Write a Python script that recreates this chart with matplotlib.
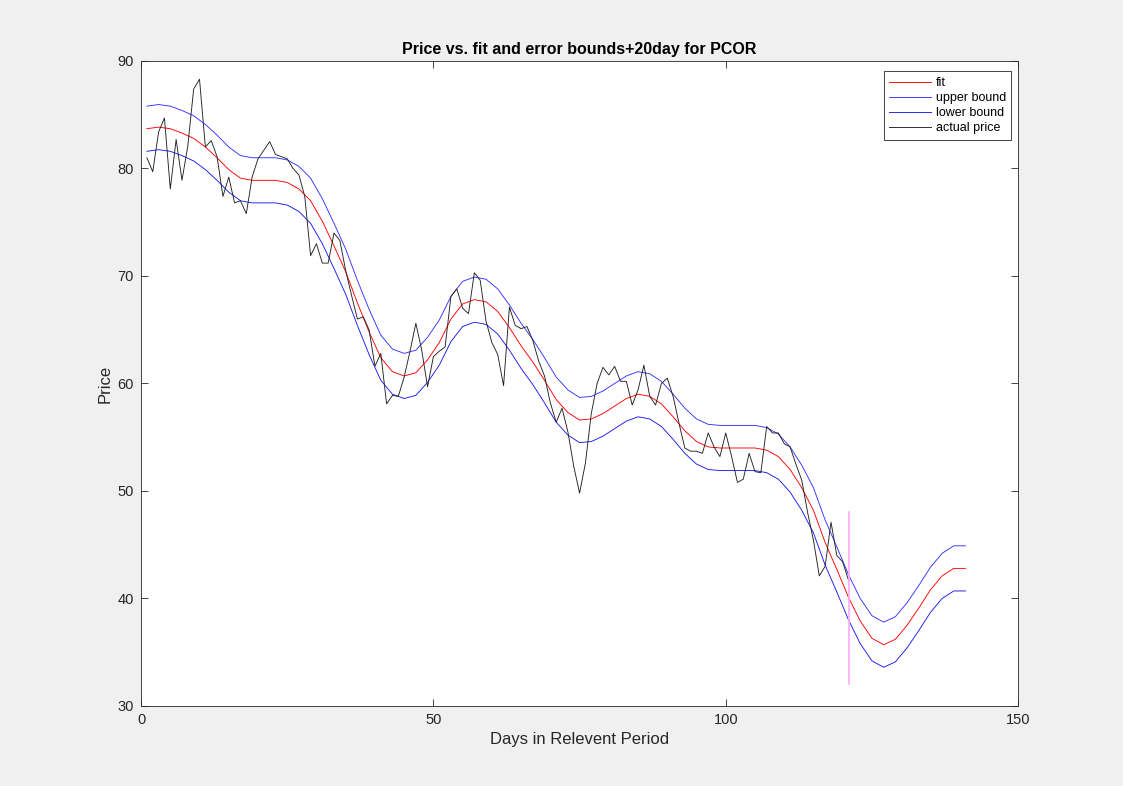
import matplotlib.pyplot as plt
import numpy as np

# actual price, days 1..121
price = [81.0, 79.7, 83.4, 84.7, 78.1, 82.7, 78.9, 82.1, 87.4, 88.3,
         82.0, 82.6, 81.1, 77.4, 79.2, 76.8, 77.0, 75.8, 79.2, 80.9,
         81.7, 82.5, 81.3, 81.1, 80.9, 80.0, 79.4, 77.4, 71.9, 73.0,
         71.2, 71.2, 74.0, 73.3, 70.5, 68.2, 66.0, 66.2, 65.0, 61.6,
         62.8, 58.1, 58.9, 58.8, 60.6, 63.0, 65.6, 63.1, 59.7, 62.5,
         63.0, 63.4, 68.1, 68.8, 67.0, 66.5, 70.3, 69.6, 65.8, 63.8,
         62.7, 59.8, 67.1, 65.4, 65.1, 65.3, 64.0, 62.1, 60.7, 58.2,
         56.4, 57.7, 55.5, 52.3, 49.8, 52.6, 57.2, 60.0, 61.5, 60.8,
         61.6, 60.2, 60.2, 58.0, 59.4, 61.7, 58.8, 58.0, 60.0, 60.5,
         58.8, 56.3, 54.0, 53.7, 53.7, 53.5, 55.4, 54.1, 53.2, 55.4,
         53.2, 50.8, 51.1, 53.5, 51.8, 51.7, 56.0, 55.4, 55.4, 54.4,
         54.1, 52.5, 51.0, 48.0, 45.4, 42.1, 43.0, 47.1, 44.0, 43.4,
         41.7]
days = np.arange(1, len(price) + 1)

# fit curve, read every 2 days (1, 3, ..., 141)
fit_days = np.arange(1, 142, 2)
fit = [83.7, 83.85, 83.7, 83.3, 82.8, 82.0, 81.0, 79.9, 79.1, 78.9,
       78.9, 78.9, 78.7, 78.1, 77.0, 75.1, 72.8, 70.4, 67.5, 64.8,
       62.4, 61.1, 60.7, 61.0, 62.2, 63.8, 66.0, 67.4, 67.8, 67.6,
       66.7, 65.2, 63.5, 62.0, 60.3, 58.5, 57.3, 56.6, 56.7, 57.2,
       57.9, 58.6, 59.0, 58.8, 58.1, 56.9, 55.6, 54.6, 54.1, 54.0,
       54.0, 54.0, 54.0, 53.8, 53.2, 52.0, 50.3, 48.2, 45.2, 42.7,
       40.1, 37.9, 36.3, 35.7, 36.2, 37.5, 39.1, 40.8, 42.1, 42.8,
       42.8]
err = 2.1
fit = np.array(fit)

marker_day = 121
marker_lo, marker_hi = 32, 48

plt.rcParams['font.family'] = ['Liberation Sans', 'DejaVu Sans']
fig = plt.figure(figsize=(11.23, 7.86), dpi=100, facecolor='#f0f0f0')
ax = fig.add_axes([0.1256, 0.1018, 0.781, 0.8206])

lw = 0.65
ax.plot(fit_days, fit, color='red', lw=lw, label='fit')
ax.plot(fit_days, fit + err, color='#3333ff', lw=lw, label='upper bound')
ax.plot(fit_days, fit - err, color='#1a1aee', lw=lw, label='lower bound')
ax.plot(days, price, color='#222222', lw=lw, label='actual price')
ax.plot([marker_day, marker_day], [marker_lo, marker_hi], color='#ffaaff', lw=1.2)

ax.set_xlim(0, 150)
ax.set_ylim(30, 90)
ax.set_xticks([0, 50, 100, 150])
ax.set_yticks([30, 40, 50, 60, 70, 80, 90])
ax.tick_params(direction='in', top=True, right=True, labelsize=10.5,
               colors='#262626', length=5, width=0.6, pad=5)
for s in ax.spines.values():
    s.set_color('#262626')
    s.set_linewidth(0.6)

ax.set_xlabel('Days in Relevent Period', fontsize=12, color='#262626')
ax.set_ylabel('Price', fontsize=12, color='#262626')
ax.set_title('Price vs. fit and error bounds+20day for PCOR', fontsize=11.5,
             fontweight='bold', pad=5)

leg = ax.legend(loc='upper right', fontsize=9, fancybox=False, framealpha=1,
                edgecolor='#262626', bbox_to_anchor=(0.9924, 0.984),
                borderaxespad=0, handlelength=3.3, handletextpad=0.4,
                labelspacing=0.25, borderpad=0.45)
leg.get_frame().set_linewidth(0.6)

plt.savefig('out.png', dpi=100, facecolor=fig.get_facecolor())
